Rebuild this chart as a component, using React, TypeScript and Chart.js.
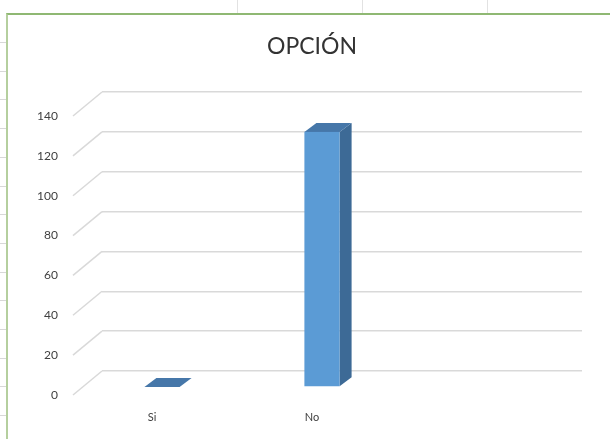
import React, { useEffect, useRef } from "react";
import { Chart, registerables } from "chart.js";

Chart.register(...registerables);

const categories = ["Si", "No", ""];
const values = [0, 128, null];
const yTicks = [0, 20, 40, 60, 80, 100, 120, 140];
const title = "OPCIÓN";

const FONT = "Lato, 'Open Sans', sans-serif";
const DEPTH_X = 12;
const DEPTH_Y = -9;
const FRONT_DX = -20;
const FRONT_DY = 16;
const SLANT_DX = -29;
const SLANT_DY = 24;

const threeD = {
  id: "threeD",
  beforeDatasetsDraw(chart: any) {
    const ctx = chart.ctx;
    const y = chart.scales.y;
    const area = chart.chartArea;
    ctx.save();
    ctx.strokeStyle = "#d9d9d9";
    ctx.lineWidth = 1.5;
    for (const t of y.ticks) {
      const py = y.getPixelForValue(t.value);
      ctx.beginPath();
      ctx.moveTo(area.left, py);
      ctx.lineTo(area.left + SLANT_DX, py + SLANT_DY);
      ctx.stroke();
    }
    ctx.restore();
  },
  afterDatasetsDraw(chart: any) {
    const ctx = chart.ctx;
    const meta = chart.getDatasetMeta(0);
    ctx.save();
    meta.data.forEach((el: any, i: number) => {
      const v = chart.data.datasets[0].data[i];
      if (v === null || v === undefined) return;
      const w = el.width;
      const cx = el.x + FRONT_DX;
      const l = cx - w / 2;
      const r = cx + w / 2;
      const top = el.y + FRONT_DY;
      const bot = el.base + FRONT_DY;
      ctx.fillStyle = "#3d6a96";
      ctx.beginPath();
      ctx.moveTo(r, bot);
      ctx.lineTo(r + DEPTH_X, bot + DEPTH_Y);
      ctx.lineTo(r + DEPTH_X, top + DEPTH_Y);
      ctx.lineTo(r, top);
      ctx.closePath();
      ctx.fill();
      ctx.fillStyle = "#4677a9";
      ctx.beginPath();
      ctx.moveTo(l, top);
      ctx.lineTo(l + DEPTH_X, top + DEPTH_Y);
      ctx.lineTo(r + DEPTH_X, top + DEPTH_Y);
      ctx.lineTo(r, top);
      ctx.closePath();
      ctx.fill();
      if (bot - top > 0.5) {
        ctx.fillStyle = "#5b9bd5";
        ctx.fillRect(l, top, w, bot - top);
      }
    });
    ctx.restore();
  },
  afterDraw(chart: any) {
    const ctx = chart.ctx;
    ctx.save();
    ctx.fillStyle = "#333333";
    ctx.font = `23px ${FONT}`;
    ctx.textAlign = "center";
    ctx.textBaseline = "middle";
    ctx.fillText(title, 312, 47);
    ctx.restore();
  },
};

export default function App() {
  const ref = useRef<HTMLCanvasElement>(null);
  useEffect(() => {
    if (!ref.current) return;
    const chart = new Chart(ref.current, {
      type: "bar",
      data: {
        labels: categories,
        datasets: [
          {
            data: values as any,
            backgroundColor: "rgba(0,0,0,0)",
            borderWidth: 0,
            barPercentage: 0.44,
            categoryPercentage: 0.5,
          },
        ],
      },
      options: {
        responsive: false,
        animation: false,
        layout: { padding: { left: 0, right: 28, top: 92, bottom: 0 } },
        plugins: {
          legend: { display: false },
          tooltip: { enabled: false },
          title: { display: false },
        },
        scales: {
          x: {
            grid: { display: false, drawTicks: false },
            border: { display: false },
            ticks: {
              color: "#404040",
              font: { family: FONT, size: 11 },
              padding: 40,
              labelOffset: -30,
              maxRotation: 0,
            },
            afterFit(axis: any) {
              axis.height = 68;
            },
          },
          y: {
            min: 0,
            max: 140,
            afterBuildTicks(axis: any) {
              axis.ticks = yTicks.map((v) => ({ value: v }));
            },
            grid: { color: "#d9d9d9", lineWidth: 1.5, drawTicks: false },
            border: { display: false },
            ticks: {
              color: "#404040",
              font: { family: FONT, size: 12 },
              padding: 44,
              labelOffset: 24,
            },
            afterFit(axis: any) {
              axis.width = 102;
            },
          },
        },
      },
      plugins: [threeD],
    });
    return () => chart.destroy();
  }, []);

  const leftMarks = [];
  for (let k = 0; k < 14; k++) {
    const yy = 42 + k * 28.7;
    leftMarks.push(
      <div
        key={k}
        style={{ position: "absolute", left: 0, top: yy, width: 6, height: 1, background: "#d8d8d8" }}
      />
    );
  }
  return (
    <div style={{ position: "fixed", left: 0, top: 0, width: 610, height: 439, background: "#fff", overflow: "hidden" }}>
      {[237, 362, 487].map((x) => (
        <div key={x} style={{ position: "absolute", left: x, top: 0, width: 1, height: 13, background: "#e2e2e2" }} />
      ))}
      {leftMarks}
      <div
        style={{
          position: "absolute",
          left: 6,
          top: 13,
          width: 620,
          height: 440,
          borderTop: "2px solid #8fb873",
          borderLeft: "2px solid #b5cf9e",
          boxSizing: "border-box",
        }}
      />
      <canvas ref={ref} width={610} height={439} style={{ position: "absolute", left: 0, top: 0 }} />
    </div>
  );
}
